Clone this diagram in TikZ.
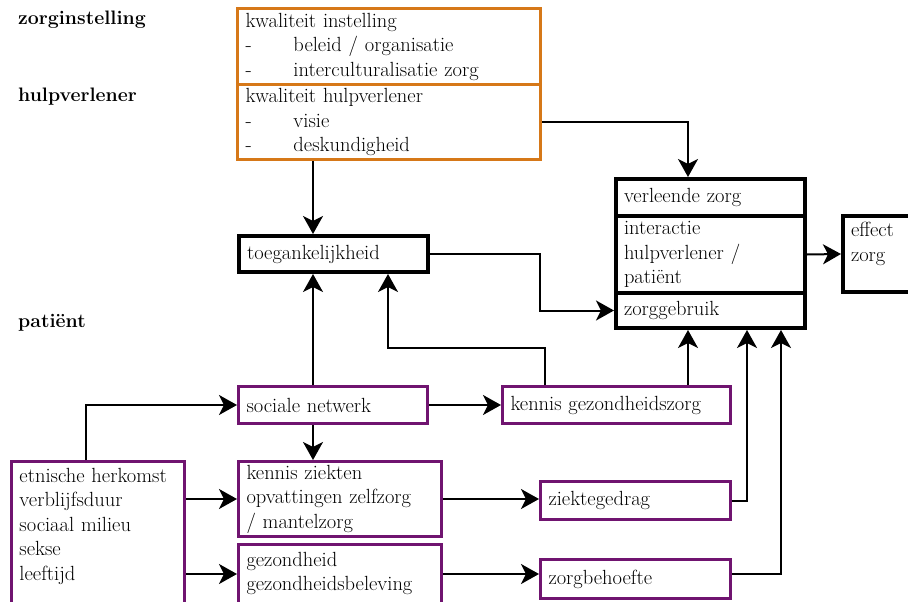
\documentclass[tikz,border=0pt]{standalone}
\usepackage{fontspec}
\usepackage{xcolor}
\usepackage{tikz}
\usetikzlibrary{arrows.meta, positioning}

\definecolor{orangeline}{RGB}{214,120,24}
\definecolor{purpleline}{RGB}{112,20,112}

\newcommand{\dashitem}[1]{\makebox[48pt][l]{-}#1}

\begin{document}
\begin{tikzpicture}[
    x=1pt, y=-1pt,
    every node/.style={font=\fontsize{20.5}{24.5}\selectfont},
    block/.style={rectangle, anchor=north west, align=left, inner xsep=8pt, inner ysep=0pt},
    obox/.style={block, draw=orangeline, line width=3pt},
    pbox/.style={block, draw=purpleline, line width=3pt},
    kbox/.style={block, draw=black, line width=4pt},
    head/.style={anchor=west, inner xsep=0pt, font=\fontsize{19.5}{24.5}\selectfont\bfseries},
    arrow/.style={-{Stealth[length=18pt, width=20pt, inset=5pt]}, line width=2pt}
]
\useasboundingbox (0,0) rectangle (908,602);

% Levels
\node[head] (lblinst) at (18,20) {zorginstelling};
\node[head] (lblhulp) at (18,97) {hulpverlener};
\node[head] (lblpat) at (18,323) {patiënt};

% Zorginstelling / hulpverlener
\node[obox, text width=287pt, minimum height=76pt] (inst) at (236,7)
    {kwaliteit instelling\\\dashitem{beleid / organisatie}\\\dashitem{interculturalisatie zorg}};
\node[obox, text width=287pt, minimum height=75pt] (hulp) at (236,83)
    {kwaliteit hulpverlener\\\dashitem{visie}\\\dashitem{deskundigheid}};

% Zorg
\node[kbox, text width=173pt, minimum height=36pt] (toeg) at (237,234) {toegankelijkheid};
\node[kbox, text width=173pt, minimum height=37pt] (vz) at (614,177) {verleende zorg};
\node[kbox, text width=173pt, minimum height=77pt] (ia) at (614,214) {interactie\\hulpverlener /\\patiënt};
\node[kbox, text width=173pt, minimum height=35pt] (zg) at (614,291) {zorggebruik};
\node[kbox, text width=64pt, minimum height=76pt] (eff) at (841,214) {effect\\zorg\\\mbox{}};

% Patient
\node[pbox, text width=173pt, minimum height=37pt] (sn) at (237,385) {sociale netwerk};
\node[pbox, text width=212pt, minimum height=37pt] (kgz) at (501,385) {kennis gezondheidszorg};
\node[pbox, text width=157pt, minimum height=174pt] (etn) at (10,460)
    {etnische herkomst\\verblijfsduur\\sociaal milieu\\sekse\\leeftijd\\\mbox{}\\\mbox{}};
\node[pbox, text width=187pt, minimum height=75pt] (kz) at (237,460)
    {kennis ziekten\\opvattingen zelfzorg\\/ mantelzorg};
\node[pbox, text width=187pt, minimum height=78pt] (gz) at (237,543)
    {gezondheid\\gezondheidsbeleving\\\mbox{}};
\node[pbox, text width=174pt, minimum height=38pt] (zd) at (539,480) {ziektegedrag};
\node[pbox, text width=174pt, minimum height=39pt] (zb) at (539,558) {zorgbehoefte};

% Routing points
\coordinate (colA) at (313,0);
\coordinate (colB) at (688,0);
\coordinate (colC) at (540,0);
\coordinate (colD) at (545,348);
\coordinate (colE) at (388,348);
\coordinate (colF) at (86,0);
\coordinate (colG) at (747,0);
\coordinate (colH) at (781,0);
\coordinate (rowB) at (0,574);

% Arrows
\draw[arrow] (colA |- hulp.south) -- (colA |- toeg.north);
\draw[arrow] (hulp.east) -| (colB |- vz.north);
\draw[arrow] (toeg.east) -- (colC |- toeg.east) -- (colC |- zg.west) -- (zg.west);
\draw[arrow] (ia.east) -- (eff.west);

\draw[arrow] (colA |- sn.north) -- (colA |- toeg.south);
\draw[arrow] (colD |- kgz.north) -- (colD) -- (colE) -- (colE |- toeg.south);
\draw[arrow] (sn.east) -- (kgz.west);
\draw[arrow] (colB |- kgz.north) -- (colB |- zg.south);
\draw[arrow] (colA |- sn.south) -- (colA |- kz.north);

\draw[arrow] (colF |- etn.north) |- (sn.west);
\draw[arrow] (etn.east |- kz.west) -- (kz.west);
\draw[arrow] (etn.east |- rowB) -- (gz.west |- rowB);
\draw[arrow] (kz.east) -- (zd.west |- kz.east);
\draw[arrow] (gz.east |- rowB) -- (zb.west |- rowB);
\draw[arrow] (zd.east) -| (colG |- zg.south);
\draw[arrow] (zb.east |- rowB) -| (colH |- zg.south);

\end{tikzpicture}
\end{document}
